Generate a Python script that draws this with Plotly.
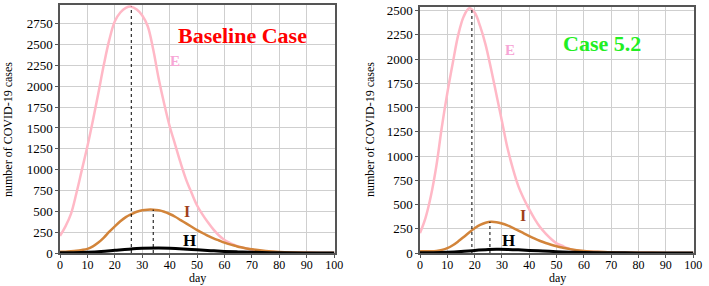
import plotly.graph_objects as go

# ---------------- data ----------------
days_E_base = [0, 2, 4, 6, 8, 10, 12, 14, 16, 18, 20, 22, 24, 26, 28, 30, 32, 34, 36, 38, 40,
               42, 44, 46, 48, 50, 52, 54, 56, 58, 60, 62, 64, 66, 68, 70, 72, 74, 76, 78, 80,
               85, 90, 95, 100]
E_base = [205, 320, 470, 720, 1000, 1280, 1590, 1920, 2260, 2560, 2780, 2885, 2940, 2955, 2920,
          2850, 2720, 2440, 2090, 1790, 1520, 1300, 1080, 880, 720, 570, 460, 365, 280, 210,
          156, 120, 92, 70, 53, 40, 30, 22, 16, 12, 9, 5, 3, 1, 1]

days_I_base = [0, 2, 4, 6, 8, 10, 12, 14, 16, 18, 20, 22, 24, 26, 28, 30, 32, 34, 36, 38, 40,
               42, 44, 46, 48, 50, 52, 54, 56, 58, 60, 62, 64, 66, 68, 70, 75, 80, 85, 90, 95, 100]
I_base = [15, 16, 20, 26, 36, 50, 80, 125, 185, 255, 320, 380, 430, 465, 495, 512, 520, 520,
          512, 495, 468, 435, 395, 355, 315, 275, 240, 205, 175, 150, 125, 103, 85, 68, 55, 44,
          24, 12, 6, 3, 1, 1]

days_H_base = [0, 5, 10, 15, 20, 25, 30, 36, 40, 45, 50, 55, 60, 65, 70, 80, 90, 100]
H_base = [2, 4, 9, 18, 32, 46, 56, 60, 57, 49, 38, 28, 19, 13, 8, 3, 1, 0]

days_E_52 = [0, 2, 4, 6, 8, 10, 12, 14, 16, 18, 20, 22, 24, 26, 28, 30, 32, 34, 36, 38, 40,
             42, 44, 46, 48, 50, 52, 54, 56, 60, 65, 70, 80, 90, 100]
E_52 = [205, 360, 590, 900, 1300, 1650, 1960, 2250, 2440, 2525, 2480, 2340, 2150, 1900, 1630,
        1360, 1085, 870, 690, 560, 450, 350, 265, 200, 145, 100, 75, 50, 32, 18, 10, 6, 3, 1, 0]

days_I_52 = [0, 2, 4, 6, 8, 10, 12, 14, 16, 18, 20, 22, 24, 26, 28, 30, 32, 34, 36, 38, 40,
             42, 44, 46, 48, 50, 52, 55, 60, 65, 70, 80, 90, 100]
I_52 = [18, 17, 18, 22, 32, 50, 80, 120, 165, 212, 255, 290, 312, 322, 318, 305, 285, 260,
        232, 203, 175, 148, 124, 103, 85, 70, 57, 40, 22, 12, 6, 2, 1, 0]

days_H_52 = [0, 5, 10, 15, 20, 25, 28, 32, 36, 40, 45, 50, 55, 60, 70, 80, 90, 100]
H_52 = [2, 3, 7, 15, 27, 36, 38, 37, 33, 27, 20, 14, 9, 6, 2, 1, 0, 0]

# peak markers (day, value)
peak_E_base = (26, 2955)
peak_I_base = (34, 520)
peak_E_52 = (19, 2525)
peak_I_52 = (25.6, 322)

x_ticks = [0, 10, 20, 30, 40, 50, 60, 70, 80, 90, 100]

# ---------------- styling ----------------
PINK = "#ffb8c6"
BROWN = "#d2843a"
SERIF = "Liberation Serif"
W, H = 709, 286

fig = go.Figure()

def add_panel(xa, ya, dE, E, dI, I, dH, Hv, pE, pI):
    fig.add_trace(go.Scatter(x=dE, y=E, mode="lines", line=dict(color=PINK, width=2.5, shape="spline"),
                             xaxis=xa, yaxis=ya, showlegend=False))
    fig.add_trace(go.Scatter(x=dI, y=I, mode="lines", line=dict(color=BROWN, width=2.5, shape="spline"),
                             xaxis=xa, yaxis=ya, showlegend=False))
    fig.add_trace(go.Scatter(x=dH, y=Hv, mode="lines", line=dict(color="black", width=3, shape="spline"),
                             xaxis=xa, yaxis=ya, showlegend=False))
    for (d, v) in (pE, pI):
        fig.add_trace(go.Scatter(x=[d, d], y=[0, v], mode="lines",
                                 line=dict(color="black", width=1, dash="dot"),
                                 xaxis=xa, yaxis=ya, showlegend=False))

add_panel("x", "y", days_E_base, E_base, days_I_base, I_base, days_H_base, H_base, peak_E_base, peak_I_base)
add_panel("x2", "y2", days_E_52, E_52, days_I_52, I_52, days_H_52, H_52, peak_E_52, peak_I_52)

axis_common = dict(showgrid=True, gridcolor="#cfcfcf", gridwidth=1, zeroline=False,
                   showline=True, linecolor="#555555", linewidth=1.5, mirror=True,
                   ticks="outside", ticklen=3, tickcolor="#555555", automargin=False)
yfont = dict(family=SERIF, size=13, color="black")
xfont = dict(family=SERIF, size=12, color="black")

fig.update_layout(
    width=W, height=H,
    margin=dict(l=0, r=0, t=0, b=0),
    plot_bgcolor="white", paper_bgcolor="white",
    xaxis=dict(domain=[60/W, 335/W], range=[0, 100.3], tickvals=x_ticks, anchor="y",
               tickfont=xfont, ticklabelstandoff=-3, **axis_common),
    yaxis=dict(domain=[33/H, 281/H], range=[0, 2975], dtick=250, anchor="x",
               tickfont=yfont, **axis_common),
    xaxis2=dict(domain=[420/W, 694/W], range=[0, 100.3], tickvals=x_ticks, anchor="y2",
                tickfont=xfont, ticklabelstandoff=-3, **axis_common),
    yaxis2=dict(domain=[33/H, 279/H], range=[0, 2538], dtick=250, anchor="x2",
                tickfont=yfont, **axis_common),
)

def paper_text(text, px, py, size, angle=0):
    fig.add_annotation(text=text, x=px / W, y=1 - py / H, xref="paper", yref="paper",
                       showarrow=False, textangle=angle, xanchor="center", yanchor="middle",
                       font=dict(family=SERIF, size=size, color="black"))

paper_text("day", 197, 278, 12)
paper_text("day", 557, 278, 12)
paper_text("number of COVID-19 cases", 8, 130, 12, -90)
paper_text("number of COVID-19 cases", 370, 130, 12, -90)

def label(text, x, y, xref, yref, color, size):
    fig.add_annotation(text=f"<b>{text}</b>", x=x, y=y, xref=xref, yref=yref, showarrow=False,
                       font=dict(family=SERIF, size=size, color=color))

label("Baseline Case", 66.4, 2605, "x", "y", "#ff0000", 22)
label("E", 42, 2305, "x", "y", "#f7a6d6", 15)
label("I", 46.3, 492, "x", "y", "#a0401a", 16)
label("H", 47.4, 156, "x", "y", "black", 17)

label("Case 5.2", 66.6, 2157, "x2", "y2", "#22ee22", 22)
label("E", 32.9, 2095, "x2", "y2", "#f7a6d6", 15)
label("I", 37.7, 392, "x2", "y2", "#a0401a", 16)
label("H", 32.5, 134, "x2", "y2", "black", 17)

fig.write_html("out.html", config={"displayModeBar": False},
               post_script="document.body.style.margin='0';document.body.style.overflow='hidden';")
